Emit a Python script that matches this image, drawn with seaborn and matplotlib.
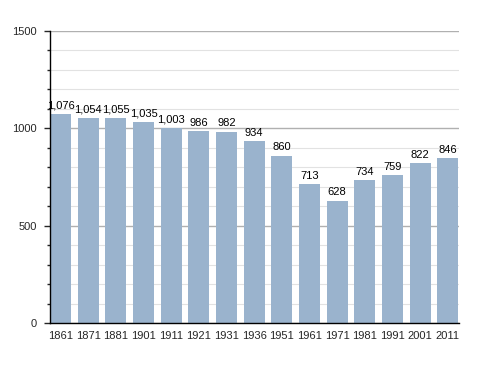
import matplotlib
matplotlib.use("Agg")
import matplotlib.pyplot as plt
import seaborn as sns
import pandas as pd
from matplotlib.ticker import MultipleLocator

years = ["1861", "1871", "1881", "1901", "1911", "1921", "1931", "1936",
         "1951", "1961", "1971", "1981", "1991", "2001", "2011"]
population = [1076, 1054, 1055, 1035, 1003, 986, 982, 934,
              860, 713, 628, 734, 759, 822, 846]
labels = ["1,076", "1,054", "1,055", "1,035", "1,003", "986", "982", "934",
          "860", "713", "628", "734", "759", "822", "846"]

sns.set_style("white")
plt.rcParams["font.family"] = ["Liberation Sans", "DejaVu Sans"]

df = pd.DataFrame({"year": years, "pop": population})

fig = plt.figure(figsize=(4.88, 3.73), dpi=100)
ax = fig.add_axes([50 / 488, 1 - 323 / 373, 409 / 488, 292 / 373])
ax.set_axisbelow(True)

sns.barplot(data=df, x="year", y="pop", color="#9ab3cd", saturation=1,
            width=0.76, linewidth=0, ax=ax)

ax.set_ylim(0, 1500)
ax.set_xlim(-0.38, len(years) - 1 + 0.4)
ax.yaxis.set_major_locator(MultipleLocator(500))
ax.yaxis.set_minor_locator(MultipleLocator(100))
ax.grid(which="minor", axis="y", color="#e2e2e2", linewidth=0.8)
ax.grid(which="major", axis="y", color="#b0b0b0", linewidth=1.0)

for i, (v, t) in enumerate(zip(population, labels)):
    ax.annotate(t, (i, v), xytext=(0, 2.5), textcoords="offset points",
                ha="center", va="bottom", fontsize=8, color="black")

for s in ["top", "right"]:
    ax.spines[s].set_visible(False)
ax.spines["left"].set_color("black")
ax.spines["bottom"].set_color("black")
ax.spines["left"].set_linewidth(1.0)
ax.spines["bottom"].set_linewidth(1.0)

ax.tick_params(axis="y", which="major", left=True, length=4.5, width=1, labelsize=8, pad=5)
ax.tick_params(axis="y", which="minor", left=True, length=2, width=1)
ax.tick_params(axis="x", bottom=False, labelsize=8, pad=2)
ax.set_xlabel("")
ax.set_ylabel("")

fig.savefig("out.png", dpi=100)
